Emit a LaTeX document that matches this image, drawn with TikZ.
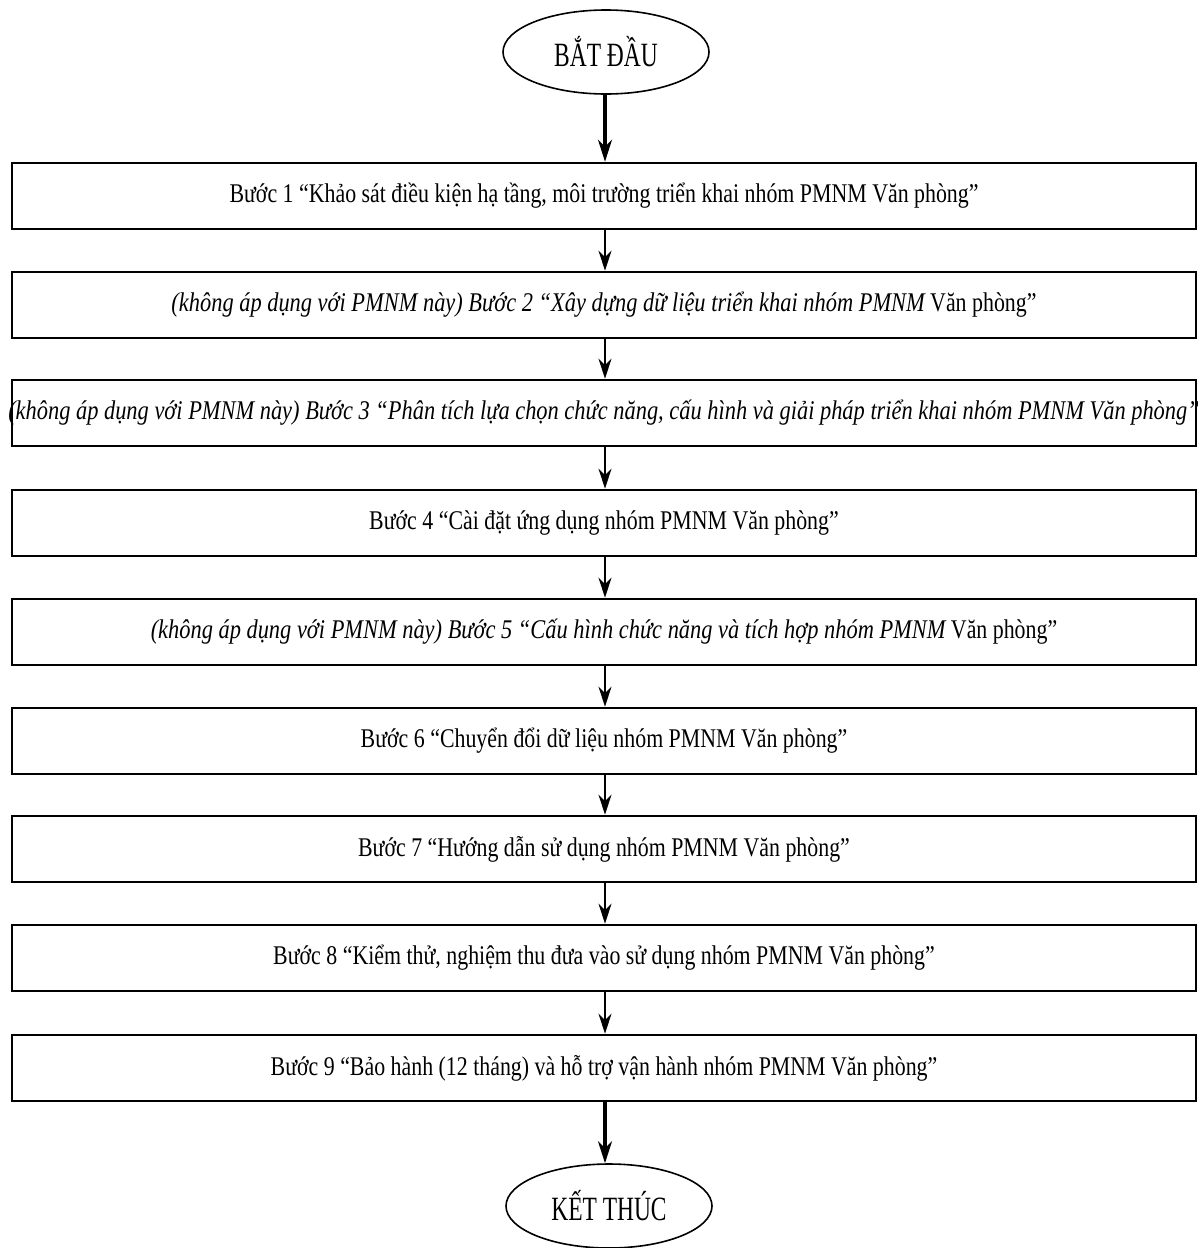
\documentclass[tikz,border=0pt]{standalone}
\usepackage{fontspec}
\setmainfont{Liberation Serif}[FakeStretch=0.81]
\newfontfamily\itfam{Liberation Serif}[FakeStretch=0.83]
\newfontfamily\ellfont{Liberation Serif}[FakeStretch=0.69]
\usetikzlibrary{arrows.meta,shapes.geometric}
\begin{document}
\begin{tikzpicture}[x=0.5pt,y=-0.5pt,
  stepbox/.style={draw,line width=1.3pt,rectangle,minimum width=592pt,minimum height=33pt,inner sep=0pt,font=\fontsize{13.5}{16}\selectfont},
  termnode/.style={draw,line width=0.8pt,ellipse,minimum width=103pt,minimum height=42pt,inner sep=0pt,font=\ellfont\fontsize{17}{19}\selectfont},
  flow/.style={line width=1pt,-{Stealth[length=10pt,width=6.5pt]}},
  thickflow/.style={line width=1.6pt,-{Stealth[length=11pt,width=7pt]}}]
\useasboundingbox (0,0) rectangle (1198,1248);
\newcommand{\zw}[1]{\makebox[0pt]{#1}}
\newcommand{\itpart}[1]{{\itfam\itshape #1}}
\node[termnode] (start) at (606,52) {BẮT ĐẦU};
\node[stepbox] (b1) at (604,196) {\zw{Bước 1 “Khảo sát điều kiện hạ tầng, môi trường triển khai nhóm PMNM Văn phòng”}};
\node[stepbox] (b2) at (604,305) {\zw{\itpart{(không áp dụng với PMNM này) Bước 2 “Xây dựng dữ liệu triển khai nhóm PMNM} Văn phòng”}};
\node[stepbox] (b3) at (604,413) {\zw{\itpart{(không áp dụng với PMNM này) Bước 3 “Phân tích lựa chọn chức năng, cấu hình và giải pháp triển khai nhóm PMNM Văn phòng”}}};
\node[stepbox] (b4) at (604,523) {\zw{Bước 4 “Cài đặt ứng dụng nhóm PMNM Văn phòng”}};
\node[stepbox] (b5) at (604,632) {\zw{\itpart{(không áp dụng với PMNM này) Bước 5 “Cấu hình chức năng và tích hợp nhóm PMNM} Văn phòng”}};
\node[stepbox] (b6) at (604,741) {\zw{Bước 6 “Chuyển đổi dữ liệu nhóm PMNM Văn phòng”}};
\node[stepbox] (b7) at (604,849) {\zw{Bước 7 “Hướng dẫn sử dụng nhóm PMNM Văn phòng”}};
\node[stepbox] (b8) at (604,958) {\zw{Bước 8 “Kiểm thử, nghiệm thu đưa vào sử dụng nhóm PMNM Văn phòng”}};
\node[stepbox] (b9) at (604,1068) {\zw{Bước 9 “Bảo hành (12 tháng) và hỗ trợ vận hành nhóm PMNM Văn phòng”}};
\node[termnode] (end) at (609,1206) {KẾT THÚC};
\coordinate (a0) at (605,0);
\draw[thickflow] (start.south -| a0) -- (b1.north -| a0);
\draw[flow] (b1.south -| a0) -- (b2.north -| a0);
\draw[flow] (b2.south -| a0) -- (b3.north -| a0);
\draw[flow] (b3.south -| a0) -- (b4.north -| a0);
\draw[flow] (b4.south -| a0) -- (b5.north -| a0);
\draw[flow] (b5.south -| a0) -- (b6.north -| a0);
\draw[flow] (b6.south -| a0) -- (b7.north -| a0);
\draw[flow] (b7.south -| a0) -- (b8.north -| a0);
\draw[flow] (b8.south -| a0) -- (b9.north -| a0);
\draw[thickflow] (b9.south -| a0) -- (end.north -| a0);
\end{tikzpicture}
\end{document}
